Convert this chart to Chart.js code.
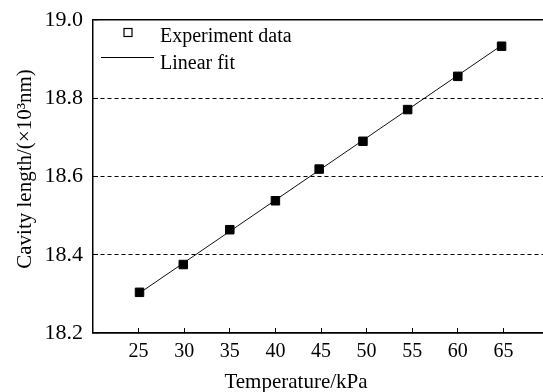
<!DOCTYPE html>
<html lang="en">
<head>
<meta charset="UTF-8">
<title>Cavity length vs Temperature</title>
<script src="https://cdn.jsdelivr.net/npm/chart.js"></script>
<style>
body {
margin: 0;
background-color: #fff;
overflow: hidden;
}
.chart-box {
width: 549px;
height: 392px;
}
</style>
</head>
<body>

<div class="chart-box">
<canvas id="cavityChart"></canvas>
</div>

<script>
// values
const temps = [25.1, 29.9, 35, 40, 44.8, 49.6, 54.5, 60, 64.8];
const cavity = [18.304, 18.375, 18.464, 18.538, 18.619, 18.690, 18.771, 18.856, 18.933];
const fitTemps = [25.1, 64.8];
const fitCavity = [18.302, 18.935];
const xTicks = [25, 30, 35, 40, 45, 50, 55, 60, 65];
const yTicks = [18.2, 18.4, 18.6, 18.8, 19.0];

const serif = '"Liberation Serif", "Times New Roman", serif';

// legend + axis titles drawn by hand, like the original figure
const figureText = {
id: 'figureText',
afterDraw(chart) {
const ctx = chart.ctx;
ctx.save();
ctx.fillStyle = '#000';
ctx.strokeStyle = '#000';

// legend
ctx.lineWidth = 1.2;
ctx.strokeRect(124, 28.5, 8, 8);
ctx.lineWidth = 1;
ctx.beginPath();
ctx.moveTo(101, 57.5);
ctx.lineTo(154, 57.5);
ctx.stroke();
ctx.font = '20px ' + serif;
ctx.textAlign = 'left';
ctx.textBaseline = 'alphabetic';
ctx.fillText('Experiment data', 160, 42);
ctx.fillText('Linear fit', 160, 69);

// axis titles
ctx.font = '21px ' + serif;
ctx.textAlign = 'center';
ctx.fillText('Temperature/kPa', 296, 388);
ctx.translate(31, 169);
ctx.rotate(-Math.PI / 2);
ctx.fillText('Cavity length/(×10³nm)', 0, 0);
ctx.restore();
}
};

const isInnerGrid = (c) => c.tick && c.tick.value > 18.3 && c.tick.value < 18.9;

new Chart(document.getElementById('cavityChart'), {
type: 'scatter',
data: {
datasets: [{
label: 'Experiment data',
data: temps.map((t, i) => ({x: t, y: cavity[i]})),
pointStyle: 'rect',
pointRadius: 6,
pointBackgroundColor: '#000',
pointBorderColor: '#000',
pointBorderWidth: 1
}, {
label: 'Linear fit',
data: fitTemps.map((t, i) => ({x: t, y: fitCavity[i]})),
showLine: true,
borderColor: '#111',
borderWidth: 1,
pointRadius: 0
}]
},
options: {
responsive: true,
maintainAspectRatio: false,
animation: false,
layout: {
autoPadding: false,
padding: {top: 20, right: 0, bottom: 0, left: 0}
},
plugins: {
legend: {display: false},
tooltip: {enabled: false}
},
scales: {
x: {
type: 'linear',
min: 20,
max: 70,
afterBuildTicks: (scale) => {
scale.ticks = xTicks.map(v => ({value: v}));
},
afterFit: (scale) => {
scale.height = 59;
scale.paddingLeft = 0;
scale.paddingRight = 0;
},
ticks: {
color: '#000',
padding: 12,
font: {family: serif, size: 20}
},
grid: {
drawOnChartArea: false,
drawTicks: true,
tickLength: -5,
tickColor: '#000',
tickWidth: 1
},
border: {
color: '#000',
width: 1.5
}
},
y: {
type: 'linear',
min: 18.2,
max: 19.0,
afterBuildTicks: (scale) => {
scale.ticks = yTicks.map(v => ({value: v}));
},
afterFit: (scale) => {
scale.width = 93;
scale.paddingTop = 0;
scale.paddingBottom = 0;
},
ticks: {
color: '#000',
padding: 15,
font: {family: serif, size: 22},
callback: (v) => Number(v).toFixed(1)
},
grid: {
color: '#000',
lineWidth: (c) => isInnerGrid(c) ? 1 : 1.5,
drawTicks: true,
tickLength: -5,
tickColor: '#000',
tickWidth: 1
},
border: {
color: '#000',
width: 1.5,
dash: (c) => isInnerGrid(c) ? [4, 3] : []
}
}
}
},
plugins: [figureText]
});
</script>

</body>
</html>
